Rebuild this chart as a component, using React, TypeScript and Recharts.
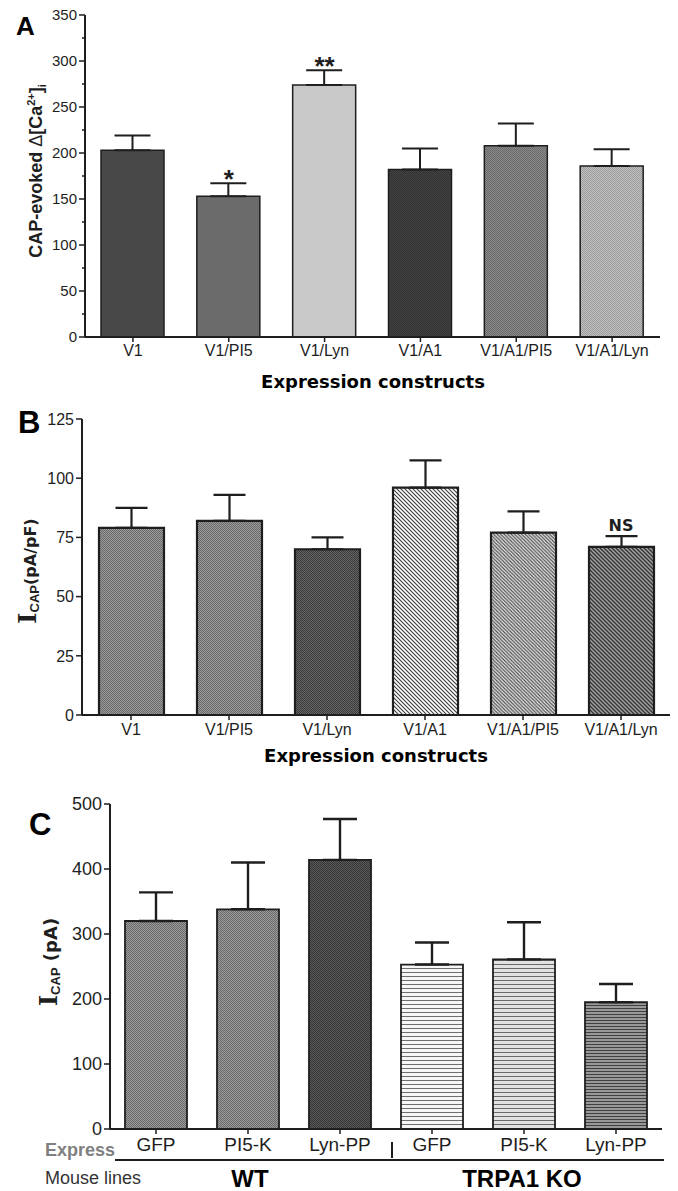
import React from 'react';
import { BarChart, Bar, XAxis, YAxis, ErrorBar, Cell, ReferenceDot } from 'recharts';

// ---------- Panel A ----------
const A_CATEGORIES = ['V1', 'V1/PI5', 'V1/Lyn', 'V1/A1', 'V1/A1/PI5', 'V1/A1/Lyn'];
const A_MEANS = [203, 153, 274, 182, 208, 186];
const A_SEMS = [16, 14, 16, 23, 24, 18];
const A_TICKS = [0, 25, 50, 75, 100, 125, 150, 175, 200, 225, 250, 275, 300, 325, 350];
const A_MARK_INDEX = [1, 2];
const A_MARK_TEXT = ['*', '**'];

// ---------- Panel B ----------
const B_CATEGORIES = ['V1', 'V1/PI5', 'V1/Lyn', 'V1/A1', 'V1/A1/PI5', 'V1/A1/Lyn'];
const B_MEANS = [79, 82, 70, 96, 77, 71];
const B_SEMS = [8.5, 11, 5, 11.5, 9, 4.5];
const B_TICKS = [0, 25, 50, 75, 100, 125];
const B_MARK_INDEX = [5];
const B_MARK_TEXT = ['NS'];

// ---------- Panel C ----------
const C_CATEGORIES = ['WT-GFP', 'WT-PI5-K', 'WT-Lyn-PP', 'KO-GFP', 'KO-PI5-K', 'KO-Lyn-PP'];
const C_TICK_LABELS = ['GFP', 'PI5-K', 'Lyn-PP', 'GFP', 'PI5-K', 'Lyn-PP'];
const C_MEANS = [320, 338, 414, 253, 261, 195];
const C_SEMS = [44, 72, 63, 34, 57, 28];
const C_TICKS = [0, 100, 200, 300, 400, 500];

// styles
const A_FILLS = ['#484848', '#6b6b6b', '#c8c8c8', 'url(#dotA4)', 'url(#dotA5)', 'url(#dotA6)'];
const B_FILLS = ['url(#dotB1)', 'url(#dotB1)', 'url(#dotB3)', 'url(#hatchB4)', 'url(#hatchB5)', 'url(#hatchB6)'];
const C_FILLS = ['url(#dotB1)', 'url(#dotB1)', 'url(#dotC3)', 'url(#horC4)', 'url(#horC5)', 'url(#horC6)'];

const SANS = '"Liberation Sans", Arial, sans-serif';
const VERD = '"DejaVu Sans", Verdana, sans-serif';
const SERIF = '"DejaVu Serif", serif';
const INK = '#1e1e1e';

const rows = (cats: string[], means: number[], sems: number[]) =>
  cats.map((c, i) => ({ cat: c, mean: means[i], err: [0, sems[i]] }));

const checker = (id: string, a: string, b: string) => (
  <pattern id={id} width={2} height={2} patternUnits="userSpaceOnUse">
    <rect x={0} y={0} width={2} height={2} fill={a} />
    <rect x={0} y={0} width={1} height={1} fill={b} />
    <rect x={1} y={1} width={1} height={1} fill={b} />
  </pattern>
);
const hatch = (id: string, bg: string, fg: string, s: number, w: number) => (
  <pattern id={id} width={s} height={s} patternUnits="userSpaceOnUse">
    <rect x={0} y={0} width={s} height={s} fill={bg} />
    <path d={`M${-s / 2},${-s / 2} L${s * 1.5},${s * 1.5} M${-s / 2},${s / 2} L${s / 2},${s * 1.5} M${s / 2},${-s / 2} L${s * 1.5},${s / 2}`} stroke={fg} strokeWidth={w} />
  </pattern>
);
const horiz = (id: string, bg: string, fg: string, s: number, w: number) => (
  <pattern id={id} width={8} height={s} patternUnits="userSpaceOnUse">
    <rect x={0} y={0} width={8} height={s} fill={bg} />
    <rect x={0} y={0} width={8} height={w} fill={fg} />
  </pattern>
);

const makeYTick = (fontSize: number, majorStep: number) => (props: any) => {
  const { x, y, payload } = props;
  const v = payload.value;
  const major = v % majorStep === 0;
  const axisX = x + 8;
  return (
    <g>
      <line x1={axisX} x2={axisX - (major ? 6 : 3)} y1={y} y2={y} stroke={INK} strokeWidth={1.5} />
      {major && (
        <text x={x} y={y} dy={fontSize * 0.36} textAnchor="end" fontFamily={SANS} fontSize={fontSize} fill={INK}>
          {v}
        </text>
      )}
    </g>
  );
};

const markLabel = (text: string, size: number, family: string, weight: number, shift: number) => (props: any) => {
  const vb = props.viewBox || {};
  const cx = (vb.x || 0) + (vb.width || 0) / 2;
  const cy = (vb.y || 0) + (vb.height || 0) / 2;
  return (
    <text x={cx} y={cy + shift} textAnchor="middle" fontFamily={family} fontWeight={weight} fontSize={size} fill={INK}>
      {text}
    </text>
  );
};

const abs = (top: number): React.CSSProperties => ({ position: 'absolute', left: 0, top });

export default function App() {
  const aData = rows(A_CATEGORIES, A_MEANS, A_SEMS);
  const bData = rows(B_CATEGORIES, B_MEANS, B_SEMS);
  const cData = rows(C_CATEGORIES, C_MEANS, C_SEMS);

  return (
    <div style={{ position: 'absolute', left: 0, top: 0, width: 678, height: 1191, background: '#fff', overflow: 'hidden' }}>
      <svg width={678} height={1191} style={{ position: 'absolute', left: 0, top: 0 }}>
        <defs>
          {checker('dotA4', '#454545', '#303030')}
          {checker('dotA5', '#8a8a8a', '#6a6a6a')}
          {checker('dotA6', '#c0c0c0', '#9c9c9c')}
          {checker('dotB1', '#9a9a9a', '#6a6a6a')}
          {checker('dotB3', '#666666', '#3a3a3a')}
          {checker('dotC3', '#5a5a5a', '#353535')}
          {hatch('hatchB4', '#ffffff', '#3a3a3a', 4, 1.1)}
          {hatch('hatchB5', '#e6e6e6', '#4a4a4a', 3.5, 1.1)}
          {hatch('hatchB6', '#a0a0a0', '#333333', 4, 1.3)}
          {horiz('horC4', '#f6f6f6', '#6e6e6e', 4, 1)}
          {horiz('horC5', '#e2e2e2', '#6a6a6a', 4, 1)}
          {horiz('horC6', '#999999', '#404040', 3, 1)}
        </defs>
      </svg>

      {/* Panel A */}
      <div style={abs(0)}>
        <BarChart width={678} height={400} data={aData} margin={{ top: 15, right: 18, bottom: 33, left: 0 }}>
          <XAxis dataKey="cat" interval={0} height={30} tickSize={5} tickMargin={3}
            axisLine={{ stroke: INK, strokeWidth: 2 }} tickLine={{ stroke: INK, strokeWidth: 1.5 }}
            tick={{ fontFamily: SANS, fontSize: 16, fill: INK }} />
          <YAxis type="number" domain={[0, 350]} ticks={A_TICKS} interval={0} width={85} tickSize={6} tickMargin={2}
            axisLine={{ stroke: INK, strokeWidth: 2 }} tickLine={false} tick={makeYTick(15, 50)} />
          <Bar dataKey="mean" barSize={63} stroke={INK} strokeWidth={1.5} isAnimationActive={false}>
            {aData.map((d, i) => <Cell key={d.cat} fill={A_FILLS[i]} />)}
            <ErrorBar dataKey="err" width={18} stroke={INK} strokeWidth={2} isAnimationActive={false} />
          </Bar>
          {A_MARK_INDEX.map((idx, k) => (
            <ReferenceDot key={idx} x={A_CATEGORIES[idx]} y={A_MEANS[idx] + A_SEMS[idx]} r={0} fill="none" stroke="none"
              ifOverflow="visible" label={{ content: markLabel(A_MARK_TEXT[k], 26, SANS, 700, 5) }} />
          ))}
        </BarChart>
      </div>

      {/* Panel B */}
      <div style={abs(380)}>
        <BarChart width={678} height={400} data={bData} margin={{ top: 39, right: 8, bottom: 35, left: 0 }}>
          <XAxis dataKey="cat" interval={0} height={30} tickSize={5} tickMargin={4}
            axisLine={{ stroke: INK, strokeWidth: 2 }} tickLine={{ stroke: INK, strokeWidth: 1.5 }}
            tick={{ fontFamily: SANS, fontSize: 16, fill: INK }} />
          <YAxis type="number" domain={[0, 125]} ticks={B_TICKS} interval={0} width={82} tickSize={6} tickMargin={2}
            axisLine={{ stroke: INK, strokeWidth: 2 }} tickLine={false} tick={makeYTick(16, 25)} />
          <Bar dataKey="mean" barSize={65} stroke={INK} strokeWidth={2.2} isAnimationActive={false}>
            {bData.map((d, i) => <Cell key={d.cat} fill={B_FILLS[i]} />)}
            <ErrorBar dataKey="err" width={16} stroke={INK} strokeWidth={2.2} isAnimationActive={false} />
          </Bar>
          {B_MARK_INDEX.map((idx, k) => (
            <ReferenceDot key={idx} x={B_CATEGORIES[idx]} y={B_MEANS[idx] + B_SEMS[idx]} r={0} fill="none" stroke="none"
              ifOverflow="visible" label={{ content: markLabel(B_MARK_TEXT[k], 16, VERD, 700, -5) }} />
          ))}
        </BarChart>
      </div>

      {/* Panel C */}
      <div style={abs(780)}>
        <BarChart width={678} height={411} data={cData} margin={{ top: 24, right: 16, bottom: 32, left: 0 }}>
          <XAxis dataKey="cat" interval={0} height={30} tickSize={5} tickMargin={4}
            tickFormatter={(_v: any, i: number) => C_TICK_LABELS[i]}
            axisLine={{ stroke: INK, strokeWidth: 2 }} tickLine={{ stroke: INK, strokeWidth: 1.5 }}
            tick={{ fontFamily: SANS, fontSize: 19, fill: INK }} />
          <YAxis type="number" domain={[0, 500]} ticks={C_TICKS} interval={0} width={110} tickSize={6} tickMargin={2}
            axisLine={{ stroke: INK, strokeWidth: 2 }} tickLine={false} tick={makeYTick(18, 100)} />
          <Bar dataKey="mean" barSize={62} stroke={INK} strokeWidth={1.8} isAnimationActive={false}>
            {cData.map((d, i) => <Cell key={d.cat} fill={C_FILLS[i]} />)}
            <ErrorBar dataKey="err" width={17} stroke={INK} strokeWidth={2.4} isAnimationActive={false} />
          </Bar>
        </BarChart>
      </div>

      {/* Titles, panel letters and annotations */}
      <svg width={678} height={1191} style={{ position: 'absolute', left: 0, top: 0, pointerEvents: 'none' }}>
        <text x={16} y={35} fontFamily={SANS} fontWeight={700} fontSize={26} fill="#000">A</text>
        <text x={18} y={433} fontFamily={SANS} fontWeight={700} fontSize={31} fill="#000">B</text>
        <text x={29} y={835} fontFamily={SANS} fontWeight={700} fontSize={31} fill="#000">C</text>

        <text transform="translate(42,171) rotate(-90)" textAnchor="middle" fontFamily={SANS} fontWeight={700} fontSize={18} fill={INK}>
          CAP-evoked <tspan fontWeight={400}>Δ</tspan>[Ca<tspan dy={-7} fontSize={11}>2+</tspan><tspan dy={7}>]</tspan><tspan dy={4} fontSize={11}>i</tspan>
        </text>

        <text transform="translate(36,571) rotate(-90)" textAnchor="middle" fill={INK}>
          <tspan fontFamily={SERIF} fontWeight={700} fontSize={24}>I</tspan>
          <tspan fontFamily={SANS} fontWeight={700} fontSize={13} dy={3}>CAP</tspan>
          <tspan fontFamily={VERD} fontWeight={700} fontSize={16} dy={-3}>(pA/pF)</tspan>
        </text>

        <text transform="translate(57,962) rotate(-90)" textAnchor="middle" fill={INK}>
          <tspan fontFamily={SERIF} fontWeight={700} fontSize={24}>I</tspan>
          <tspan fontFamily={SANS} fontWeight={700} fontSize={13} dy={3}>CAP</tspan>
          <tspan fontFamily={VERD} fontWeight={700} fontSize={18} dy={-3}> (pA)</tspan>
        </text>

        <text x={373} y={388} textAnchor="middle" fontFamily={VERD} fontWeight={700} fontSize={18} fill="#000">Expression constructs</text>
        <text x={376} y={762} textAnchor="middle" fontFamily={VERD} fontWeight={700} fontSize={18} fill="#000">Expression constructs</text>

        <text x={45} y={1156} fontFamily={SANS} fontWeight={700} fontSize={18} fill="#808080">Express</text>
        <line x1={392} x2={392} y1={1142} y2={1158} stroke={INK} strokeWidth={2} />
        <line x1={115} x2={664} y1={1160} y2={1160} stroke={INK} strokeWidth={2} />
        <text x={45} y={1184} fontFamily={SANS} fontSize={18} fill="#333">Mouse lines</text>
        <text x={250} y={1187} textAnchor="middle" fontFamily={SANS} fontWeight={700} fontSize={24} fill="#000">WT</text>
        <text x={522} y={1187} textAnchor="middle" fontFamily={SANS} fontWeight={700} fontSize={24} fill="#000">TRPA1 KO</text>
      </svg>
    </div>
  );
}
